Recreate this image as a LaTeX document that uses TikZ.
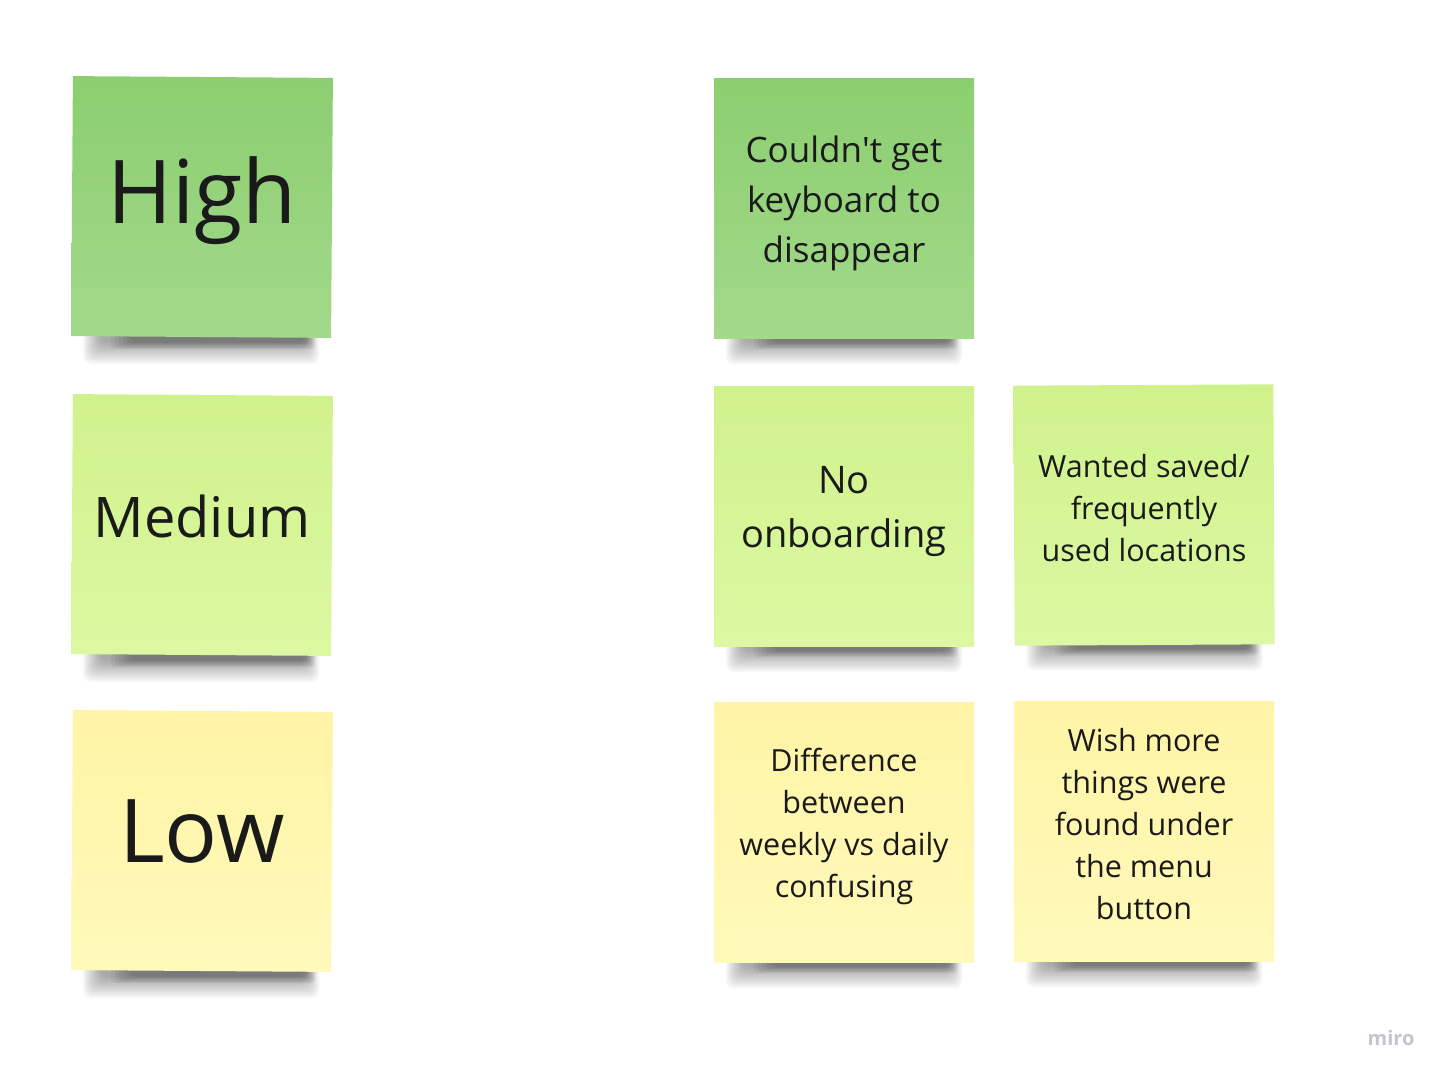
\documentclass[tikz,border=0pt]{standalone}
\usepackage{fontspec}
\setmainfont{Open Sans}
\definecolor{hightop}{HTML}{8CCE70}
\definecolor{highbot}{HTML}{A2D98A}
\definecolor{medtop}{HTML}{D0F28C}
\definecolor{medbot}{HTML}{DCF8A2}
\definecolor{lowtop}{HTML}{FFF4A6}
\definecolor{lowbot}{HTML}{FFF9BA}
\definecolor{textc}{HTML}{1A1A1A}
\definecolor{miroc}{HTML}{C4C4CC}
\pgfdeclarelayer{background}
\pgfdeclarelayer{canvas}
\pgfsetlayers{canvas,background,main}
\newcommand\noteshadow[1]{%
  \foreach \i in {0,...,11}{%
    \fill[black,opacity=0.03,rounded corners=8pt]
      ([xshift={12pt+1.6*\i pt},yshift=10pt]#1.south west) rectangle
      ([xshift={-12pt-1.4*\i pt},yshift={-26pt+1.9*\i pt}]#1.south east);
  }%
  \foreach \i in {0,...,5}{%
    \fill[black,opacity=0.05,rounded corners=4pt]
      ([xshift={40pt+4*\i pt},yshift=10pt]#1.south west) rectangle
      ([xshift={-16pt-1.5*\i pt},yshift={-11pt+1.3*\i pt}]#1.south east);
  }%
}
\begin{document}
\begin{tikzpicture}[x=1pt,y=-1pt,
  note/.style={minimum width=260pt,minimum height=260pt,inner sep=0pt,draw=none},
  high/.style={note,top color=hightop,bottom color=highbot},
  med/.style={note,top color=medtop,bottom color=medbot},
  low/.style={note,top color=lowtop,bottom color=lowbot},
  txt/.style={align=center,text=textc,inner sep=0pt},
  big/.style={txt,font=\fontsize{88}{100}\selectfont},
  mid/.style={txt,font=\fontsize{56}{64}\selectfont},
  body/.style={txt,font=\fontsize{35}{50}\selectfont},
  bodyb/.style={txt,font=\fontsize{38}{54}\selectfont},
  small/.style={txt,font=\fontsize{30.5}{42}\selectfont}]
\begin{pgfonlayer}{canvas}
\useasboundingbox[fill=white] (0,0) rectangle (1447,1079);
\end{pgfonlayer}

\node[high,rotate=-0.4] (nhigh) at (202,207) {};
\node[high] (nkey) at (844,208) {};
\node[med,rotate=-0.4] (nmed) at (202,525) {};
\node[med] (nonb) at (844,516) {};
\node[med,rotate=0.3] (nsave) at (1144,515) {};
\node[low,rotate=-0.4] (nlow) at (202,841) {};
\node[low] (ndiff) at (844,832) {};
\node[low] (nwish) at (1144,831) {};

\begin{pgfonlayer}{background}
\noteshadow{nhigh}
\noteshadow{nkey}
\noteshadow{nmed}
\noteshadow{nonb}
\noteshadow{nsave}
\noteshadow{nlow}
\noteshadow{ndiff}
\noteshadow{nwish}
\end{pgfonlayer}

\node[big] (thigh) at ([yshift=6pt]nhigh.center) {High};
\node[body] (tkey) at ([yshift=5pt]nkey.center) {Couldn\textquotesingle t get\\keyboard to\\disappear};
\node[mid] (tmed) at ([yshift=9pt]nmed.center) {Medium};
\node[bodyb] (tonb) at ([yshift=5pt]nonb.center) {No\\onboarding};
\node[small] (tsave) at ([yshift=7pt]nsave.center) {Wanted saved/\\frequently\\used locations};
\node[big] (tlow) at ([yshift=9pt]nlow.center) {Low};
\node[small] (tdiff) at ([yshift=6pt]ndiff.center) {Difference\\between\\weekly vs daily\\confusing};
\node[small] (twish) at ([yshift=7pt]nwish.center) {Wish more\\things were\\found under\\the menu\\button};

\node[text=miroc,font=\fontsize{20}{20}\selectfont\bfseries] (miro) at (1391,1038) {miro};
\end{tikzpicture}
\end{document}
